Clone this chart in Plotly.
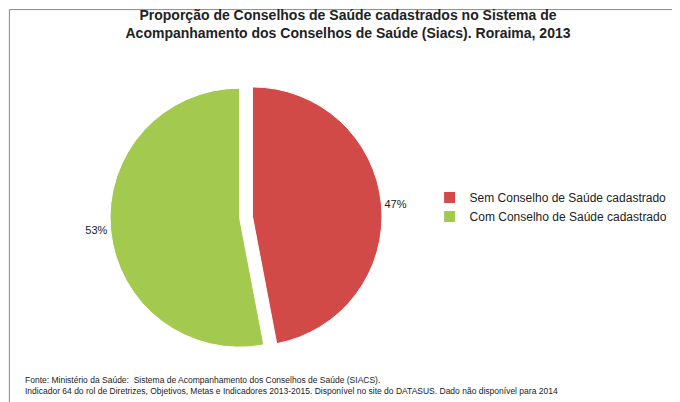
import plotly.graph_objects as go

labels = ["Sem Conselho de Saúde cadastrado", "Com Conselho de Saúde cadastrado"]
values = [47, 53]
colors = ["#D24A47", "#A3C94F"]

fig = go.Figure(go.Pie(
    labels=labels, values=values, sort=False, direction="clockwise", rotation=0,
    marker=dict(colors=colors, line=dict(color="white", width=1)),
    pull=[0.05, 0.05],
    text=[f"{v}%" for v in values], textinfo="text", textposition="outside",
    textfont=dict(size=11, color="#222222"),
    domain=dict(x=[0.15, 0.55], y=[0.14, 0.82]),
    hoverinfo="label+percent",
))

fig.update_layout(
    width=680, height=402, paper_bgcolor="white",
    font=dict(family="Liberation Sans, Arial, sans-serif", color="#222"),
    margin=dict(l=0, r=0, t=0, b=0),
    title=dict(text="<b>Proporção de Conselhos de Saúde cadastrados no Sistema de<br>Acompanhamento dos Conselhos de Saúde (Siacs). Roraima, 2013</b>",
               x=0.5, xanchor="center", y=0.97, yanchor="top", font=dict(size=14)),
    legend=dict(x=0.62, y=0.505, xanchor="left", yanchor="middle", font=dict(size=12)),
    shapes=[dict(type="rect", xref="paper", yref="paper", x0=0.002, y0=0.004, x1=0.996, y1=0.996,
                 line=dict(color="#888", width=1))],
    annotations=[dict(
        text="Fonte: Ministério da Saúde:  Sistema de Acompanhamento dos Conselhos de Saúde (SIACS).<br>"
             "Indicador 64 do rol de Diretrizes, Objetivos, Metas e Indicadores 2013-2015. Disponível no site do DATASUS. Dado não disponível para 2014",
        xref="paper", yref="paper", x=0.022, y=0.03, xanchor="left", yanchor="bottom",
        align="left", showarrow=False, font=dict(size=8.5))],
)

fig.write_html("out.html")
